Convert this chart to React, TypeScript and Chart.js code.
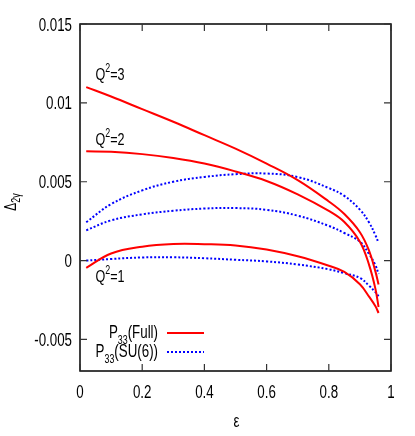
import React, { useEffect, useRef } from "react";
import { Chart, registerables } from "chart.js";

Chart.register(...registerables);

const epsilon = [0.02, 0.1, 0.2, 0.3, 0.4, 0.5, 0.6, 0.7, 0.8, 0.85, 0.9, 0.93, 0.95, 0.96];

const fullQ3 = [0.011, 0.0104, 0.0096, 0.0088, 0.00795, 0.0071, 0.00615, 0.0051, 0.00375, 0.00295, 0.0018, 0.0006, -0.0007, -0.00152];
const fullQ2 = [0.00693, 0.0069, 0.00675, 0.0065, 0.00615, 0.00565, 0.00505, 0.0042, 0.00315, 0.00245, 0.0012, -0.0003, -0.0018, -0.00294];
const fullQ1 = [-0.00046, 0.00045, 0.00088, 0.00105, 0.00104, 0.00096, 0.0007, 0.00027, -0.00033, -0.00072, -0.0015, -0.0023, -0.0029, -0.00332];

const su6Q3 = [0.00243, 0.00358, 0.00445, 0.005, 0.0053, 0.00548, 0.00552, 0.0053, 0.0046, 0.0041, 0.00323, 0.0024, 0.0016, 0.00112];
const su6Q2 = [0.00192, 0.00255, 0.00293, 0.00316, 0.0033, 0.00333, 0.00322, 0.00285, 0.0022, 0.00175, 0.0012, 0.0004, -0.0003, -0.00085];
const su6Q1 = [0.0, 0.0001, 0.0002, 0.00021, 0.00015, 0.00005, -0.00005, -0.00025, -0.00055, -0.0008, -0.0011, -0.0016, -0.002, -0.00226];

const xTicks = [0, 0.2, 0.4, 0.6, 0.8, 1];
const xTickLabels = ["0", "0.2", "0.4", "0.6", "0.8", "1"];
const yTicks = [-0.005, 0, 0.005, 0.01, 0.015];
const yTickLabels = ["-0.005", "0", "0.005", "0.01", "0.015"];

const curveLabels = ["3", "2", "1"];
const curveLabelX = [0.05, 0.05, 0.05];
const curveLabelY = [0.01148, 0.00736, -0.00133];

const legendNames = ["(Full)", "(SU(6))"];

const FONT = "'Liberation Sans', Arial, sans-serif";
const SX = 0.74;
const RED = "#ff0000";
const BLUE = "#0000ff";

function toPoints(ys: number[]) {
  return ys.map((y, i) => ({ x: epsilon[i], y }));
}

function tw(ctx: CanvasRenderingContext2D, s: string, size: number) {
  ctx.font = `${size}px ${FONT}`;
  return ctx.measureText(s).width * SX;
}

function txt(ctx: CanvasRenderingContext2D, s: string, x: number, y: number, size: number) {
  ctx.save();
  ctx.font = `${size}px ${FONT}`;
  ctx.textAlign = "left";
  ctx.textBaseline = "alphabetic";
  ctx.translate(x, y);
  ctx.scale(SX, 1);
  ctx.fillText(s, 0, 0);
  ctx.restore();
}

const decorPlugin = {
  id: "decor",
  afterDraw(chart: any) {
    const ctx = chart.ctx as CanvasRenderingContext2D;
    const { left, right, top, bottom } = chart.chartArea;
    const xs = chart.scales.x;
    const ys = chart.scales.y;
    ctx.save();
    // frame
    ctx.strokeStyle = "#000";
    ctx.lineWidth = 1.5;
    ctx.strokeRect(left, top, right - left, bottom - top);
    // inward ticks
    const tl = 7;
    ctx.lineWidth = 1.2;
    ctx.strokeStyle = "#333";
    ctx.beginPath();
    xTicks.forEach((v) => {
      const px = xs.getPixelForValue(v);
      ctx.moveTo(px, bottom);
      ctx.lineTo(px, bottom - tl);
      ctx.moveTo(px, top);
      ctx.lineTo(px, top + tl);
    });
    yTicks.forEach((v) => {
      const py = ys.getPixelForValue(v);
      ctx.moveTo(left, py);
      ctx.lineTo(left + tl, py);
      ctx.moveTo(right, py);
      ctx.lineTo(right - tl, py);
    });
    ctx.stroke();

    ctx.fillStyle = "#000";
    const TS = 18;
    // tick labels
    xTicks.forEach((v, i) => {
      const px = xs.getPixelForValue(v);
      const w = tw(ctx, xTickLabels[i], TS);
      txt(ctx, xTickLabels[i], px - w / 2, bottom + 27, TS);
    });
    yTicks.forEach((v, i) => {
      const py = ys.getPixelForValue(v);
      const w = tw(ctx, yTickLabels[i], TS);
      txt(ctx, yTickLabels[i], left - 8 - w, py + 6.5, TS);
    });

    // curve labels Q^2=n
    curveLabels.forEach((n, i) => {
      let x = xs.getPixelForValue(curveLabelX[i]);
      const y = ys.getPixelForValue(curveLabelY[i]);
      txt(ctx, "Q", x, y, 17);
      x += tw(ctx, "Q", 17);
      txt(ctx, "2", x, y - 8, 12);
      x += tw(ctx, "2", 12);
      txt(ctx, "=" + n, x, y, 17);
    });

    // legend
    const legRight = left + 78;
    const rows = [
      { base: bottom - 33, color: RED, dash: [] as number[] },
      { base: bottom - 14, color: BLUE, dash: [2, 2] },
    ];
    rows.forEach((r, i) => {
      const wP = tw(ctx, "P", 18);
      const wN = tw(ctx, legendNames[i], 18);
      const wS = tw(ctx, "33", 12);
      let x = legRight - (wP + wS + wN);
      txt(ctx, "P", x, r.base, 18);
      x += wP;
      txt(ctx, "33", x, r.base + 6, 12);
      x += wS;
      txt(ctx, legendNames[i], x, r.base, 18);
      ctx.save();
      ctx.strokeStyle = r.color;
      ctx.lineWidth = 2;
      ctx.setLineDash(r.dash);
      ctx.beginPath();
      ctx.moveTo(legRight + 9, r.base - 5);
      ctx.lineTo(legRight + 46, r.base - 5);
      ctx.stroke();
      ctx.restore();
    });

    // x title
    const we = tw(ctx, "\u03b5", 18);
    txt(ctx, "\u03b5", (left + right) / 2 + 1 - we / 2, 427, 18);

    // y title
    ctx.save();
    ctx.translate(16, 202);
    ctx.rotate(-Math.PI / 2);
    const wD = tw(ctx, "\u0394", 16);
    const wSub = tw(ctx, "2\u03b3", 12);
    const start = -(wD + wSub) / 2;
    txt(ctx, "\u0394", start, 0, 16);
    txt(ctx, "2\u03b3", start + wD, 4, 12);
    ctx.restore();

    ctx.restore();
  },
};

export default function App() {
  const ref = useRef<HTMLCanvasElement | null>(null);
  useEffect(() => {
    if (!ref.current) return;
    const common = { pointRadius: 0, borderWidth: 2, tension: 0.4, fill: false };
    const chart = new Chart(ref.current, {
      type: "line",
      data: {
        datasets: [
          { label: "Full Q2=3", data: toPoints(fullQ3), borderColor: RED, ...common },
          { label: "Full Q2=2", data: toPoints(fullQ2), borderColor: RED, ...common },
          { label: "Full Q2=1", data: toPoints(fullQ1), borderColor: RED, ...common },
          { label: "SU6 Q2=3", data: toPoints(su6Q3), borderColor: BLUE, borderDash: [2, 2], ...common },
          { label: "SU6 Q2=2", data: toPoints(su6Q2), borderColor: BLUE, borderDash: [2, 2], ...common },
          { label: "SU6 Q2=1", data: toPoints(su6Q1), borderColor: BLUE, borderDash: [2, 2], ...common },
        ],
      },
      options: {
        animation: false,
        responsive: false,
        devicePixelRatio: 1,
        layout: { padding: { top: 24, right: 24, left: 0, bottom: 0 } },
        plugins: { legend: { display: false }, tooltip: { enabled: false } },
        scales: {
          x: {
            type: "linear",
            min: 0,
            max: 1,
            afterBuildTicks: (s: any) => {
              s.ticks = xTicks.map((v) => ({ value: v }));
            },
            afterFit: (s: any) => {
              s.height = 65;
            },
            ticks: { display: false },
            grid: { display: false, drawTicks: false },
            border: { display: false },
          },
          y: {
            type: "linear",
            min: -0.007,
            max: 0.015,
            afterBuildTicks: (s: any) => {
              s.ticks = yTicks.map((v) => ({ value: v }));
            },
            afterFit: (s: any) => {
              s.width = 80;
            },
            ticks: { display: false },
            grid: { display: false, drawTicks: false },
            border: { display: false },
          },
        },
      },
      plugins: [decorPlugin],
    });
    return () => chart.destroy();
  }, []);
  return (
    <div style={{ position: "fixed", left: 0, top: 0, width: 415, height: 436, background: "#fff" }}>
      <canvas ref={ref} width={415} height={436} style={{ width: 415, height: 436 }} />
    </div>
  );
}
